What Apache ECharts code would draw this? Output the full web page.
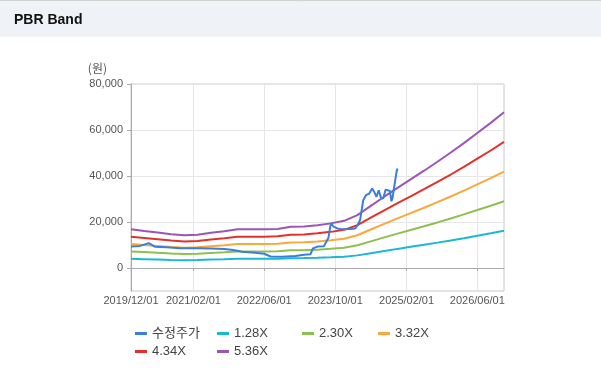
<!DOCTYPE html>
<html>
<head>
<meta charset="utf-8">
<script src="https://cdn.jsdelivr.net/npm/echarts@6/dist/echarts.min.js"></script>
<style>
  html, body { margin: 0; padding: 0; background: #ffffff; }
  #chart { width: 601px; height: 380px; }
</style>
</head>
<body>
<div id="chart"></div>
<script>
// ---- data ----
const xTickLabels = ['2019-12-01', '2021-02-01', '2022-06-01', '2023-10-01', '2025-02-01', '2026-06-01'];
const yTickValues = [0, 20000, 40000, 60000, 80000];

const bandDates = [
  '2019-12-01', '2020-03-01', '2020-06-01', '2020-09-01', '2020-12-01',
  '2021-03-01', '2021-06-01', '2021-09-01', '2021-12-01', '2022-03-01',
  '2022-06-01', '2022-09-01', '2022-12-01', '2023-03-01', '2023-06-01',
  '2023-09-01', '2023-12-01', '2024-03-01', '2024-06-01', '2024-09-01',
  '2024-12-01', '2025-03-01', '2025-06-01', '2025-09-01', '2025-12-01',
  '2026-03-01', '2026-06-01', '2026-09-01', '2026-12-01'
];
const band128 = [4010, 3850, 3680, 3510, 3390, 3460, 3650, 3820, 4010, 4010, 4010, 4060, 4280, 4300, 4440, 4630, 4900, 5490, 6450, 7400, 8310, 9190, 10100, 11030, 11990, 12970, 14020, 15070, 16170];
const band230 = [7210, 6910, 6610, 6310, 6090, 6220, 6560, 6870, 7210, 7210, 7210, 7300, 7680, 7720, 7980, 8320, 8800, 9870, 11590, 13300, 14930, 16520, 18150, 19820, 21540, 23300, 25190, 27080, 29050];
const band332 = [10410, 9970, 9540, 9110, 8800, 8980, 9480, 9910, 10410, 10410, 10410, 10530, 11090, 11150, 11520, 12020, 12700, 14250, 16720, 19200, 21560, 23850, 26200, 28620, 31100, 33640, 36360, 39080, 41940];
const band434 = [13600, 13040, 12470, 11910, 11500, 11740, 12390, 12960, 13600, 13600, 13600, 13770, 14500, 14570, 15060, 15710, 16600, 18620, 21860, 25100, 28180, 31170, 34250, 37410, 40650, 43970, 47530, 51090, 54820];
const band536 = [16800, 16100, 15400, 14700, 14200, 14500, 15300, 16000, 16800, 16800, 16800, 17000, 17900, 18000, 18600, 19400, 20500, 23000, 27000, 31000, 34800, 38500, 42300, 46200, 50200, 54300, 58700, 63100, 67700];

const priceDates = [
  '2019-12-01', '2020-02-01', '2020-04-01', '2020-05-15', '2020-08-01', '2020-11-01',
  '2021-03-01', '2021-06-01', '2021-09-01', '2021-11-01', '2022-01-01', '2022-04-01',
  '2022-06-01', '2022-07-15', '2022-10-01', '2023-01-01', '2023-03-01', '2023-04-15',
  '2023-05-01', '2023-06-01', '2023-07-15', '2023-08-15', '2023-09-01', '2023-09-20',
  '2023-10-15', '2023-11-15', '2024-01-15', '2024-02-15', '2024-03-01', '2024-03-20',
  '2024-04-10', '2024-05-01', '2024-05-20', '2024-06-10', '2024-06-25', '2024-07-10',
  '2024-07-25', '2024-08-10', '2024-08-25', '2024-09-10', '2024-09-25', '2024-10-10',
  '2024-10-20', '2024-10-28', '2024-11-05', '2024-11-15', '2024-11-25', '2024-12-01'
];
const priceValues = [
  9300, 9600, 10800, 9200, 9000, 8600,
  8600, 8500, 8300, 7800, 7100, 6600,
  6200, 5000, 4900, 5200, 5800, 6000,
  8500, 9300, 9500, 13000, 19500, 18000,
  17200, 16900, 17000, 17200, 18500, 21000,
  29500, 31800, 32300, 34600, 33000, 31000,
  33800, 30500, 30200, 34000, 33800, 33500,
  29000, 30500, 34000, 38000, 42000, 43300
];

const seriesNames = ['수정주가', '1.28X', '2.30X', '3.32X', '4.34X', '5.36X'];
const seriesColors = ['#3b7ddd', '#1cb8d2', '#8dc051', '#f9a93c', '#e2312b', '#9b55b4'];

// ---- build ----
const pDate = s => { const p = s.split('-').map(Number); return Date.UTC(p[0], p[1] - 1, p[2]); };
const pairs = (dates, vals) => dates.map((d, i) => [pDate(d), vals[i]]);
const seriesData = [
  pairs(priceDates, priceValues),
  pairs(bandDates, band128),
  pairs(bandDates, band230),
  pairs(bandDates, band332),
  pairs(bandDates, band434),
  pairs(bandDates, band536)
];
const xTicks = xTickLabels.map(pDate);
const pad = n => (n < 10 ? '0' : '') + n;
const fmtDate = v => { const d = new Date(v); return d.getUTCFullYear() + '/' + pad(d.getUTCMonth() + 1) + '/' + pad(d.getUTCDate()); };

const legendPos = [[135, 327], [217, 327], [302, 327], [378, 327], [135, 345], [217, 345]];

const chart = echarts.init(document.getElementById('chart'), null, { renderer: 'canvas' });
chart.setOption({
  animation: false,
  backgroundColor: '#ffffff',
  graphic: [
    { type: 'rect', z: -10, shape: { x: 0, y: 0, width: 601, height: 37 }, style: { fill: '#eff2f7' } },
    { type: 'line', z: -9, shape: { x1: 0, y1: 0.5, x2: 601, y2: 0.5 }, style: { stroke: '#d2d2d2', lineWidth: 1 } }
  ],
  title: {
    text: 'PBR Band', left: 14, top: 12, padding: 0,
    textStyle: { fontFamily: 'Liberation Sans, Arial, sans-serif', fontSize: 14, fontWeight: 'bold', color: '#111', lineHeight: 16 }
  },
  legend: seriesNames.map((n, i) => ({
    data: [n], left: legendPos[i][0], top: legendPos[i][1], padding: 0,
    icon: 'rect', itemWidth: 12, itemHeight: 3, itemGap: 4,
    textStyle: { fontFamily: 'Liberation Sans, "Noto Sans CJK KR", sans-serif', fontSize: 13, color: '#444' }
  })),
  grid: { left: 131, right: 97, top: 84, bottom: 89, show: true, borderColor: '#c8c8c8', borderWidth: 1, containLabel: false },
  xAxis: {
    type: 'value',
    min: pDate('2019-12-01'), max: pDate('2026-12-01'),
    axisLine: { show: true, lineStyle: { color: '#aaaaaa' } },
    axisTick: { show: true, length: 3, customValues: xTicks, lineStyle: { color: '#aaaaaa' } },
    axisLabel: { customValues: xTicks, formatter: fmtDate, margin: 4, color: '#555', fontSize: 11, fontFamily: 'Liberation Sans, Arial, sans-serif', hideOverlap: false },
    splitLine: { show: true, lineStyle: { color: '#e6e6e6' } }
  },
  yAxis: {
    type: 'value', min: -10000, max: 80000,
    name: '(원)', nameLocation: 'end', nameGap: 10,
    nameTextStyle: { align: 'right', padding: [0, 24, 0, 0], color: '#555', fontSize: 12, fontFamily: '"Noto Sans CJK KR", sans-serif' },
    axisLine: { show: true, lineStyle: { color: '#aaaaaa' } },
    axisTick: { show: true, length: 4, customValues: yTickValues, lineStyle: { color: '#aaaaaa' } },
    axisLabel: { customValues: yTickValues, margin: 8, color: '#555', fontSize: 11, fontFamily: 'Liberation Sans, Arial, sans-serif',
      formatter: v => v.toLocaleString('en-US') },
    splitLine: { show: true, lineStyle: { color: '#e6e6e6' } }
  },
  series: seriesNames.map((n, i) => ({
    name: n, type: 'line', data: seriesData[i], showSymbol: false, symbol: 'none',
    color: seriesColors[i], lineStyle: { width: 2, color: seriesColors[i] },
    z: i === 0 ? 3 : 2
  }))
});
</script>
</body>
</html>
